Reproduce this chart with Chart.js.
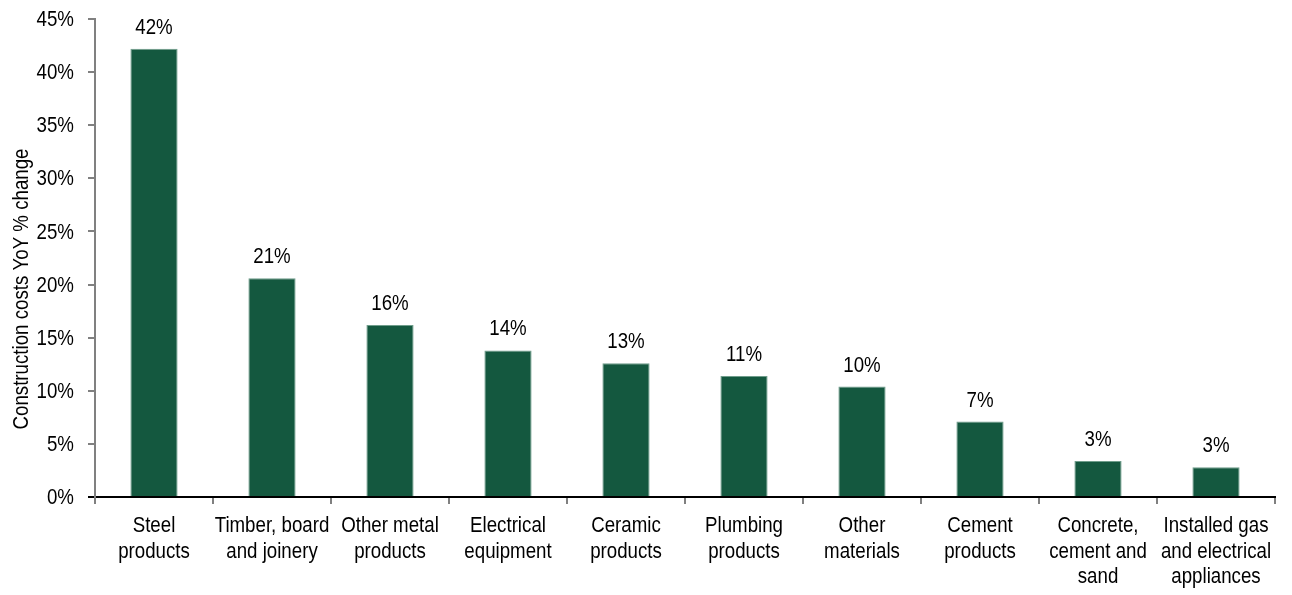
<!DOCTYPE html>
<html>
<head>
<meta charset="utf-8">
<script src="https://cdn.jsdelivr.net/npm/chart.js@4"></script>
<style>
  html, body { margin: 0; padding: 0; background: #fff; }
  #wrap { width: 1292px; height: 595px; }
</style>
</head>
<body>
<div id="wrap"><canvas id="costChart" width="1292" height="595"></canvas></div>
<script>
// Datos del gráfico
const categorias = [
    ['Steel', 'products'],
    ['Timber, board', 'and joinery'],
    ['Other metal', 'products'],
    ['Electrical', 'equipment'],
    ['Ceramic', 'products'],
    ['Plumbing', 'products'],
    ['Other', 'materials'],
    ['Cement', 'products'],
    ['Concrete,', 'cement and', 'sand'],
    ['Installed gas', 'and electrical', 'appliances']
];
const cambioAnual = [42.2, 20.6, 16.2, 13.8, 12.6, 11.4, 10.4, 7.1, 3.4, 2.8];
const ticksY = [0, 5, 10, 15, 20, 25, 30, 35, 40, 45];
const tituloY = 'Construction costs YoY % change';

const fuente = '22px "Liberation Sans", Arial, sans-serif';
const estrecho = 0.85; // simula una fuente "narrow"
const verde = '#14583f';

// Escribe texto comprimido horizontalmente
function textoEstrecho(ctx, texto, x, y, align) {
    ctx.save();
    ctx.translate(x, y);
    ctx.scale(estrecho, 1);
    ctx.textAlign = align;
    ctx.fillText(texto, 0, 0);
    ctx.restore();
}

// Etiquetas de ejes y de barras
const textos = {
    id: 'textos',
    afterDraw(chart) {
        const ctx = chart.ctx;
        const ejeX = chart.scales.x;
        const ejeY = chart.scales.y;
        ctx.save();
        ctx.font = fuente;
        ctx.fillStyle = '#000';
        ctx.textBaseline = 'alphabetic';

        // Valores encima de las barras
        chart.getDatasetMeta(0).data.forEach((bar, i) => {
            textoEstrecho(ctx, Math.round(cambioAnual[i]) + '%', bar.x, bar.y - 15, 'center');
        });

        // Categorías del eje X
        categorias.forEach((lineas, i) => {
            const x = ejeX.getPixelForTick(i);
            lineas.forEach((linea, j) => {
                textoEstrecho(ctx, linea, x, ejeX.bottom - 63 + j * 25.5, 'center');
            });
        });

        // Ticks del eje Y
        ctx.textBaseline = 'middle';
        ticksY.forEach(v => {
            textoEstrecho(ctx, v + '%', ejeY.right - 21, ejeY.getPixelForValue(v) + 1, 'right');
        });

        // Título del eje Y
        ctx.textBaseline = 'alphabetic';
        ctx.translate(28, 289);
        ctx.rotate(-Math.PI / 2);
        textoEstrecho(ctx, tituloY, 0, 0, 'center');
        ctx.restore();
    }
};

const ctxCostes = document.getElementById('costChart').getContext('2d');
new Chart(ctxCostes, {
    type: 'bar',
    data: {
        labels: categorias,
        datasets: [{
            data: cambioAnual,
            backgroundColor: verde,
            borderColor: '#6f9d8b',
            borderWidth: 1,
            categoryPercentage: 1,
            barPercentage: 0.4
        }]
    },
    options: {
        responsive: false,
        animation: false,
        layout: {
            padding: { top: 19, right: 17, left: 0, bottom: 0 }
        },
        scales: {
            x: {
                offset: true,
                grid: {
                    offset: true,
                    drawOnChartArea: false,
                    drawTicks: true,
                    tickLength: 7,
                    color: '#808080',
                    lineWidth: 2
                },
                border: { color: '#000', width: 2 },
                ticks: { display: false },
                afterFit(scale) { scale.height = 98; }
            },
            y: {
                min: 0,
                max: 45,
                afterBuildTicks(scale) {
                    scale.ticks = ticksY.map(v => ({ value: v }));
                },
                grid: {
                    drawOnChartArea: false,
                    drawTicks: true,
                    tickLength: 7,
                    color: ctx => (ctx.tick && ctx.tick.value === 0) ? '#000' : '#808080',
                    lineWidth: 2
                },
                border: { color: '#808080', width: 2 },
                ticks: { display: false },
                afterFit(scale) { scale.width = 95; }
            }
        },
        plugins: {
            legend: { display: false },
            tooltip: { enabled: false },
            title: { display: false }
        }
    },
    plugins: [textos]
});
</script>
</body>
</html>
